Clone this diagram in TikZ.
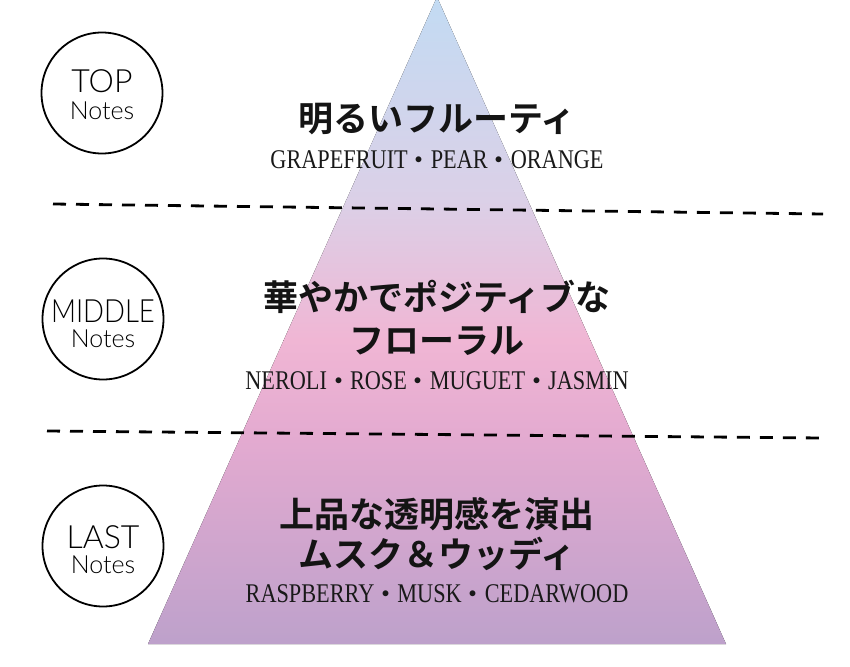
\documentclass[tikz,border=0pt]{standalone}
\usepackage{fontspec}
\usepackage{graphicx}
\newfontfamily\cjkfont{Noto Sans CJK JP}[BoldFont={Noto Sans CJK JP Bold}]
\newfontfamily\serifcond{Liberation Serif}[FakeStretch=0.825]
\newfontfamily\labfont{Lato Light}
\newcommand{\notesep}{{\cjkfont\bfseries\fontsize{23}{23}\selectfont ・}}
\definecolor{gA}{HTML}{C2DBF3}
\definecolor{gB}{HTML}{DBD0E7}
\definecolor{gC}{HTML}{F0B6D4}
\definecolor{gD}{HTML}{E3AAD0}
\definecolor{gE}{HTML}{BDA1CB}
\begin{document}
\begin{tikzpicture}[x=1pt,y=-1pt,
  circ/.style={draw=black, line width=1.8pt, circle, minimum size=121pt, inner sep=0pt},
  biglab/.style={font=\labfont\fontsize{32}{32}\selectfont, anchor=base, inner sep=0pt},
  smalllab/.style={font=\labfont\fontsize{25}{25}\selectfont, anchor=base, inner sep=0pt},
  head/.style={font=\cjkfont\bfseries\fontsize{35}{35}\selectfont, anchor=base, inner sep=0pt, text=black!92},
  notes/.style={font=\serifcond\fontsize{27}{27}\selectfont, anchor=base, inner sep=0pt, text=black!90},
  sepline/.style={line width=2.8pt, dash pattern=on 13pt off 10pt}
]
\useasboundingbox (0,0) rectangle (850,666);
% pyramid with piecewise gradient
\begin{scope}
  \clip (437,-3) -- (148,644) -- (726,644) -- cycle;
  \fill[top color=gA, bottom color=gB] (100,-5) rectangle (780,200.5);
  \fill[top color=gB, bottom color=gC] (100,200) rectangle (780,340.5);
  \fill[top color=gC, bottom color=gD] (100,340) rectangle (780,440.5);
  \fill[top color=gD, bottom color=gE] (100,440) rectangle (780,646);
\end{scope}
% dashed separators
\coordinate (d1a) at (53,204);
\coordinate (d1b) at (823,214);
\coordinate (d2a) at (47,431);
\coordinate (d2b) at (822,438);
\draw[sepline] (d1a) -- (d1b);
\draw[sepline] (d2a) -- (d2b);
% circles
\node[circ] (ctop) at (102,93) {};
\node[biglab] (ltop) at (102,93) {TOP};
\node[smalllab] (ntop) at (102,120) {Notes};
\node[circ] (cmid) at (103,319) {};
\node[biglab] (lmid) at (103,322) {\scalebox{0.86}[1]{MIDDLE}};
\node[smalllab] (nmid) at (103,347) {Notes};
\node[circ] (clast) at (103,546) {};
\node[biglab] (llast) at (103,548) {LAST};
\node[smalllab] (nlast) at (103,573) {Notes};
% texts
\node[head] (t1) at (437,131) {明るいフルーティ};
\node[notes] (n1) at (437,168) {GRAPEFRUIT\notesep PEAR\notesep ORANGE};
\node[head] (t2a) at (437,310) {華やかでポジティブな};
\node[head] (t2b) at (437,353) {フローラル};
\node[notes] (n2) at (437,389) {NEROLI\notesep ROSE\notesep MUGUET\notesep JASMIN};
\node[head] (t3a) at (437,527) {上品な透明感を演出};
\node[head] (t3b) at (437,567) {ムスク＆ウッディ};
\node[notes] (n3) at (437,602) {RASPBERRY\notesep MUSK\notesep CEDARWOOD};
\end{tikzpicture}
\end{document}
